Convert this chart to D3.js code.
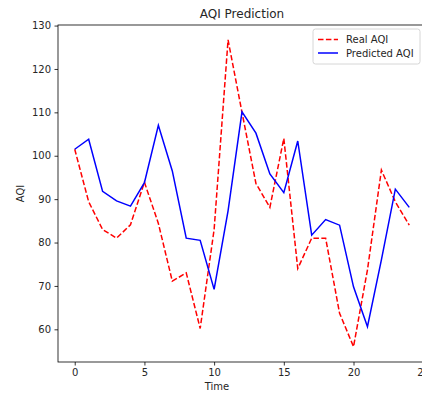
<!DOCTYPE html>
<html>
<head>
<meta charset="utf-8">
<script src="https://cdn.jsdelivr.net/npm/d3@7"></script>
<style>
  body { margin: 0; background: #fff; }
  svg { display: block; font-family: "DejaVu Sans", sans-serif; }
</style>
</head>
<body>
<div id="chart"></div>
<script>
const time = d3.range(25)
const realAqi = [101.5, 89.4, 83.0, 81.0, 84.1, 93.9, 84.4, 71.1, 73.0, 60.2, 83.0, 126.7, 110.0, 93.6, 88.1, 104.0, 74.0, 81.0, 81.0, 63.7, 56.0, 73.7, 96.7, 89.4, 84.0]
const predictedAqi = [101.5, 103.8, 91.8, 89.6, 88.4, 93.8, 107.0, 96.5, 81.0, 80.5, 69.2, 87.3, 110.1, 105.2, 95.8, 91.5, 103.4, 81.7, 85.3, 84.0, 69.8, 60.6, 76.0, 92.3, 88.1]
const xTicks = [0, 5, 10, 15, 20, 25]
const yTicks = [60, 70, 80, 90, 100, 110, 120, 130]

const width = 422
const height = 393
const margin = {top: 25, right: -4, bottom: 31, left: 58}
const innerWidth = width - margin.left - margin.right
const innerHeight = height - margin.top - margin.bottom

const xScale = d3.scaleLinear()
    .domain([-1.2, 25.2])
    .range([0, innerWidth])

const yScale = d3.scaleLinear()
    .domain([52.47, 130.13])
    .range([innerHeight, 0])

const svg = d3.select("#chart")
    .append("svg")
    .attr("width", width)
    .attr("height", height)

svg.append("defs").append("clipPath")
    .attr("id", "plot-clip")
    .append("rect")
    .attr("width", innerWidth)
    .attr("height", innerHeight)

const graph = svg.append("g")
    .attr("transform", `translate(${margin.left}, ${margin.top})`)

const line = values => d3.line()
    .x(d => xScale(d))
    .y(d => yScale(values[d]))

graph.append("path")
    .datum(time)
    .attr("clip-path", "url(#plot-clip)")
    .attr("fill", "none")
    .attr("stroke", "#ff0000")
    .attr("stroke-width", 1.5)
    .attr("stroke-dasharray", "5.5,2.4")
    .attr("d", line(realAqi))

graph.append("path")
    .datum(time)
    .attr("clip-path", "url(#plot-clip)")
    .attr("fill", "none")
    .attr("stroke", "#0000ff")
    .attr("stroke-width", 1.5)
    .attr("d", line(predictedAqi))

const xAxis = graph.append("g")
    .attr("transform", `translate(0, ${innerHeight})`)
    .call(d3.axisBottom(xScale).tickValues(xTicks).tickSize(3.5).tickPadding(3.5))

const yAxis = graph.append("g")
    .call(d3.axisLeft(yScale).tickValues(yTicks).tickSize(3.5).tickPadding(3.5))

for (const axis of [xAxis, yAxis]) {
    axis.select(".domain").remove()
    axis.selectAll("line").attr("stroke", "#000").attr("stroke-width", 0.8)
    axis.selectAll("text")
        .attr("fill", "#262626")
        .style("font-size", "10px")
        .style("font-family", "DejaVu Sans, sans-serif")
}

// frame
graph.append("rect")
    .attr("width", innerWidth)
    .attr("height", innerHeight)
    .attr("fill", "none")
    .attr("stroke", "#000")
    .attr("stroke-width", 0.8)

svg.append("text")
    .attr("x", margin.left + innerWidth / 2)
    .attr("y", 18)
    .attr("text-anchor", "middle")
    .attr("fill", "#262626")
    .style("font-size", "12px")
    .text("AQI Prediction")

svg.append("text")
    .attr("x", margin.left + xScale(10.2))
    .attr("y", 390)
    .attr("text-anchor", "middle")
    .attr("fill", "#262626")
    .style("font-size", "10px")
    .text("Time")

svg.append("text")
    .attr("transform", `translate(24, ${margin.top + innerHeight / 2}) rotate(-90)`)
    .attr("text-anchor", "middle")
    .attr("fill", "#262626")
    .style("font-size", "10px")
    .text("AQI")

// legend
const legendItems = [
    {label: "Real AQI", color: "#ff0000", dash: "5.5,2.4"},
    {label: "Predicted AQI", color: "#0000ff", dash: null}
]

const legend = svg.append("g")
    .attr("transform", "translate(313, 29)")

legend.append("rect")
    .attr("width", 107)
    .attr("height", 35)
    .attr("rx", 2.5)
    .attr("fill", "#fff")
    .attr("fill-opacity", 0.8)
    .attr("stroke", "#cccccc")
    .attr("stroke-width", 0.8)

const entry = legend.selectAll("g.entry")
    .data(legendItems)
    .join("g")
    .attr("class", "entry")
    .attr("transform", (d, i) => `translate(0, ${10.5 + i * 13.5})`)

entry.append("line")
    .attr("x1", 5)
    .attr("x2", 25)
    .attr("stroke", d => d.color)
    .attr("stroke-width", 1.5)
    .attr("stroke-dasharray", d => d.dash)

entry.append("text")
    .attr("x", 33)
    .attr("dy", "0.35em")
    .attr("fill", "#262626")
    .style("font-size", "10px")
    .text(d => d.label)
</script>
</body>
</html>
